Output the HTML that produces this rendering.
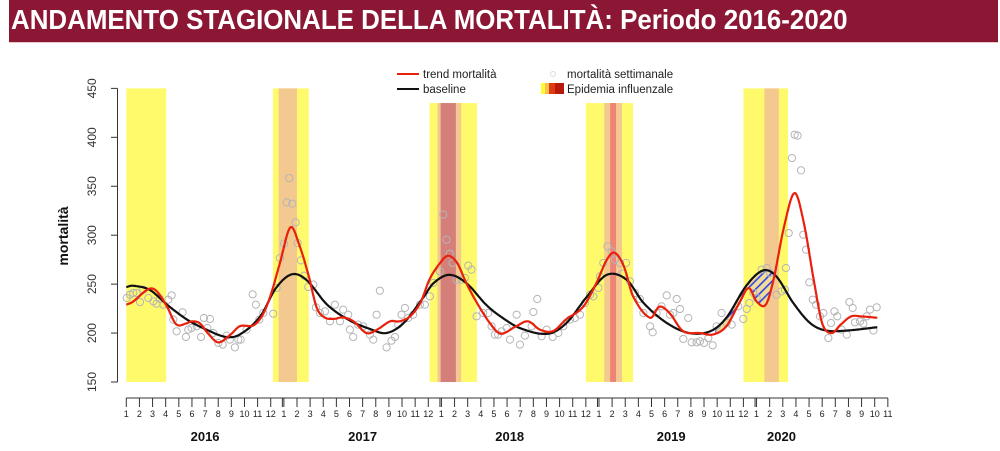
<!DOCTYPE html>
<html><head><meta charset="utf-8"><style>
html,body{margin:0;padding:0;background:#fff;width:1000px;height:451px;overflow:hidden}
#hdr{position:absolute;left:9px;top:0;width:989px;height:42px;background:#8B1734;border-bottom:1px solid #e8c8cf}
#hdr span{position:absolute;left:2px;top:4px;color:#fff;font:bold 28px "Liberation Sans",sans-serif;transform:scaleX(0.925);transform-origin:left top;white-space:nowrap}
svg{position:absolute;left:0;top:0}
text{font-family:"Liberation Sans",sans-serif}
</style></head><body>
<div id="hdr"><span>ANDAMENTO STAGIONALE DELLA MORTALITÀ: Periodo 2016-2020</span></div>
<svg id="chart" width="1000" height="451">
<defs><pattern id="hatch" patternUnits="userSpaceOnUse" width="6" height="6" patternTransform="rotate(45)"><rect x="0" y="0" width="6" height="6" fill="#f2dc9a"/><rect x="0" y="0" width="1.6" height="6" fill="#3347e8"/></pattern></defs>
</svg>
<script>
// months since Jan 2016
const bandStart=[0,11.17,23.1,35.0,47.0];
const bandEnd=[3.04,13.9,26.7,38.6,50.4];
const bandTop=[450,450,435,435,450];
const orangeStart=[null,11.6,23.7,36.4,48.6];
const orangeEnd=[null,13.0,25.5,37.75,49.7];
const redStart=[null,null,23.94,36.85,null];
const redEnd=[null,null,25.1,37.3,null];
const redColor=[null,null,"#d47f7a","#ee8476",null];

const trendT=[0,0.5,1.7,2.3,3.1,3.8,4.6,5,5.6,6.2,7,7.9,8.65,9.7,10.4,11,11.7,12.5,13.2,13.9,14.5,15.1,15.8,16.5,17.3,18.3,19.1,20.1,20.8,21.6,22.4,23.1,23.9,24.5,25.2,25.9,26.7,27.7,28.5,29.7,30.6,31.5,32.5,33.5,34.8,35.8,36.6,37.2,37.9,38.6,39.9,40.6,41.4,42.4,43.7,44.7,45.7,46.7,47.4,48.0,48.7,49.3,50.1,50.9,51.6,52.4,53.0,53.7,54.4,55.2,56.0,57.2];
const trendV=[229,232,245,243,227,209,210,212,210,200,190.5,198,207,208,219,239,271.6,308,289,258,226,216,214.5,216,212,200,203.5,212,212,217,231,255,271.6,279,271.6,251,231,210,199.5,207,212,203.5,202,214,227,251,275,282,268,237.5,215.6,227,220,202,200,198.6,207,231,246,232.4,229,255,309,343,312.6,251,210,200,208.5,217,217,215.6];
const baseT=[0,0.5,1.8,3.1,4.6,6.1,7.6,8.65,10.2,11.4,12.6,13.7,15.3,17,18.6,19.8,21.1,22.6,23.4,24.6,25.9,27.4,28.5,30,32.1,33.5,35.1,36.6,38.1,39.4,41.2,42.9,44.5,45.7,47.2,48.5,49.5,50.8,52.1,53.3,54.9,57.2];
const baseV=[247,248.4,244,229,214,203.5,196,198.6,217,246,260,254.5,229,213,204,200,210,236,251,259.5,251,229,217,205,199.3,210,237.5,259.5,254.5,230.7,210,200,202,215.6,248,264,258,230.7,210,202.6,202.6,206];
const pointT=[0.03,0.28,0.53,0.79,1.04,1.29,1.68,2.06,2.31,2.56,2.82,3.2,3.45,3.58,3.83,4.29,4.54,4.72,4.97,5.36,5.69,5.91,6.17,6.37,6.62,7.01,7.34,7.64,7.89,8.27,8.53,8.71,9.16,9.62,9.87,10.13,10.43,11.19,11.45,11.7,12.01,12.21,12.41,12.64,12.89,13.05,13.3,13.55,13.86,14.24,14.44,14.75,15.13,15.51,15.89,16.27,16.52,16.9,17.03,17.28,17.66,18.05,18.55,18.81,19.06,19.31,19.82,20.2,20.46,20.71,20.96,21.22,21.47,21.85,22.36,22.74,23.12,23.38,23.88,24.14,24.39,24.64,24.85,25.15,25.53,25.79,26.04,26.29,26.68,27.18,27.56,27.82,28.07,28.32,
28.59,28.97,29.22,29.73,29.98,30.36,30.87,31.0,31.3,31.63,32.01,32.47,32.9,33.28,33.79,34.17,34.55,34.93,35.32,35.57,35.95,36.08,36.33,36.64,36.97,37.22,37.6,37.8,38.06,38.36,38.74,39.12,39.38,39.89,40.09,40.39,40.77,41.16,41.41,41.66,41.92,42.17,42.42,42.8,43.06,43.44,43.69,44.0,44.33,44.66,44.96,45.34,45.73,46.11,46.61,46.99,47.25,47.45,47.76,48.01,48.39,48.77,49.03,49.53,49.91,50.17,50.24,50.45,50.7,50.9,51.13,51.39,51.56,51.77,52.02,52.28,52.53,52.83,53.09,53.47,53.67,53.93,54.15,54.48,54.87,55.07,55.32,55.5,55.88,56.14,56.39,56.64,56.9,57.15];
const pointV=[235.8,239.2,241,241,231.7,244.3,235.8,232.4,230,234.8,229,234.1,238.5,213.7,201.8,221.2,196,203.5,205.2,206.9,196,215.4,205.2,214.4,200.1,189.9,188.2,197.4,193.3,185.4,193.3,193.3,203.5,239.6,229,213.7,220.5,219.8,246.1,276.7,291.3,333.5,358.4,332.2,313.1,292,274.3,258.6,247.1,249.5,226.3,220.5,222.2,212,229,212,223.9,218.8,203.5,196,208.6,206.9,198.4,193.3,218.8,243.3,185.4,192.2,196,208.6,218.8,225.6,215.4,218.8,229,229,237.5,251.2,263.1,321,295.4,281.1,271.6,254.5,254.5,256.3,268.9,264.8,217.1,220.5,220.5,206.9,198.4,198.4,
201.8,205.2,193.3,218.8,188.2,197.4,206.9,221.5,234.8,196.7,203.5,196,200.1,206.9,213.7,215.4,218.8,230.7,239.2,237.5,246.1,258,271.6,288.6,283.5,275,271.6,260.7,271.6,252.9,241,234.8,220.5,206.9,200.8,220.5,227.3,238.5,218.8,220.5,234.8,224.6,194,215.4,190.5,190.5,191.6,189.9,194.9,187.5,206.9,220.5,210.3,208.6,227.3,214.4,224.6,230.7,241,235.8,264.8,266.5,261.4,239.2,242.6,244.3,266.5,302.2,378.8,402.7,401.7,366.2,300.5,285.2,251.8,234.1,229,217.1,220.5,194.9,210.3,222.2,217.1,203.5,198.4,231.7,225.6,211,211.9,209.6,217.1,224,202.6,226.3];
const yTicks=[150,200,250,300,350,400,450];
const monthsPerYear=[12,12,12,12,11];
const yearLabels=["2016","2017","2018","2019","2020"];
const yearLabelT=[6,18,29.2,41.5,49.9];
const hatchRange=[44.9,49.6];

const NS="http://www.w3.org/2000/svg";
const svg=document.getElementById('chart');
const X=t=>126.3+t*13.13;
const Y=v=>382-(v-150)*0.9787;
function mk(tag,attrs,parent){const e=document.createElementNS(NS,tag);for(const k in attrs)e.setAttribute(k,attrs[k]);(parent||svg).appendChild(e);return e;}

for(let i=0;i<bandStart.length;i++){
  let r=mk('rect',{x:X(bandStart[i]),y:Y(bandTop[i]),width:X(bandEnd[i])-X(bandStart[i]),height:Y(150)-Y(bandTop[i]),fill:'#fffa6b'});
  
  
  if(orangeStart[i]!==null){
    let o=mk('rect',{x:X(orangeStart[i]),y:Y(bandTop[i]),width:X(orangeEnd[i])-X(orangeStart[i]),height:Y(150)-Y(bandTop[i]),fill:'#f4c990'});
    
    
  }
  if(redStart[i]!==null){
    let d=mk('rect',{x:X(redStart[i]),y:Y(bandTop[i]),width:X(redEnd[i])-X(redStart[i]),height:Y(150)-Y(bandTop[i]),fill:redColor[i]});
    
    
  }
}

function interp(T,V,t){
  let i=0;while(i<T.length-2&&T[i+1]<t)i++;
  const t0=T[Math.max(i-1,0)],t1=T[i],t2=T[i+1],t3=T[Math.min(i+2,T.length-1)];
  const v0=V[Math.max(i-1,0)],v1=V[i],v2=V[i+1],v3=V[Math.min(i+2,V.length-1)];
  const h=t2-t1,u=Math.min(Math.max((t-t1)/h,0),1);
  const m1=(v2-v0)/(t2-t0)*h,m2=(v3-v1)/(t3-t1)*h;
  const u2=u*u,u3=u2*u;
  return (2*u3-3*u2+1)*v1+(u3-2*u2+u)*m1+(-2*u3+3*u2)*v2+(u3-u2)*m2;
}
function curvePath(T,V){let d='';for(let t=T[0];t<=T[T.length-1]+1e-9;t+=0.05){d+=(d?'L':'M')+X(t).toFixed(1)+','+Y(interp(T,V,t)).toFixed(1);}return d;}

{
  let top='',bot=[];
  for(let t=hatchRange[0];t<=hatchRange[1];t+=0.05){
    const b=interp(baseT,baseV,t),r=interp(trendT,trendV,t);
    const lo=Math.min(b,r);
    top+=(top?'L':'M')+X(t).toFixed(1)+','+Y(b).toFixed(1);
    bot.unshift(X(t).toFixed(1)+','+Y(lo).toFixed(1));
  }
  let h=mk('path',{d:top+'L'+bot.join('L')+'Z',fill:'url(#hatch)',stroke:'#3347e8','stroke-width':1});
  
  
}

const pg=mk('g',{});


for(let i=0;i<pointT.length;i++){
  let c=mk('circle',{cx:X(pointT[i]),cy:Y(pointV[i]),r:3.6,fill:'none',stroke:'#b5b5b5','stroke-width':1},pg);
  
  
}

let bl=mk('path',{d:curvePath(baseT,baseV),fill:'none',stroke:'#111','stroke-width':2.2});


let tl=mk('path',{d:curvePath(trendT,trendV),fill:'none',stroke:'#e8200c','stroke-width':2.2});



const ya=mk('g',{});


mk('line',{x1:117.5,y1:Y(450),x2:117.5,y2:Y(150),stroke:'#333'},ya);
yTicks.forEach(v=>{
  mk('line',{x1:111,y1:Y(v),x2:117.5,y2:Y(v),stroke:'#333'},ya);
  let tx=mk('text',{x:96,y:Y(v),'font-size':12,fill:'#333','text-anchor':'middle',transform:`rotate(-90 96 ${Y(v)})`},ya);
  tx.textContent=v;
  
  
});
let yt=mk('text',{x:68,y:236,'font-size':14,'font-weight':'bold',fill:'#111','text-anchor':'middle',transform:'rotate(-90 68 236)'});
yt.textContent='mortalità';



const xa=mk('g',{});


let total=0;monthsPerYear.forEach(m=>total+=m);
mk('line',{x1:X(0),y1:398,x2:X(total-1),y2:398,stroke:'#333'},xa);
let t=0;
monthsPerYear.forEach((m,yi)=>{
  for(let k=1;k<=m;k++){
    mk('line',{x1:X(t),y1:398,x2:X(t),y2:407,stroke:'#333'},xa);
    if(k===1&&yi>0)mk('line',{x1:X(t)-1.5,y1:398,x2:X(t)-1.5,y2:407,stroke:'#333'},xa);
    let tx=mk('text',{x:X(t),y:417,'font-size':9,fill:'#222','text-anchor':'middle'},xa);
    tx.textContent=k;
    
    
    t++;
  }
});
yearLabels.forEach((y,i)=>{
  let tx=mk('text',{x:X(yearLabelT[i]),y:441,'font-size':13,'font-weight':'bold',fill:'#111','text-anchor':'middle'},xa);
  tx.textContent=y;
  
  
});

const lg=mk('g',{});


mk('line',{x1:397,y1:74,x2:419,y2:74,stroke:'#e8200c','stroke-width':2},lg);
mk('line',{x1:397,y1:89,x2:419,y2:89,stroke:'#111','stroke-width':2},lg);
mk('circle',{cx:553,cy:74,r:2.5,fill:'none',stroke:'#ddd'},lg);
[['#fffa30',541,4],['#f7c050',545,4],['#e03a10',549,6],['#b71a0a',555,9]].forEach(s=>mk('rect',{x:s[1],y:83,width:s[2],height:11,fill:s[0]},lg));
[['trend mortalità',423,78,'legend-trend'],['baseline',423,93,'legend-baseline'],['mortalità settimanale',567,78,'legend-points'],['Epidemia influenzale',567,93,'legend-epidemic']].forEach(a=>{
  let tx=mk('text',{x:a[1],y:a[2],'font-size':11.5,fill:'#222'},lg);
  tx.textContent=a[0];
  
  
});
</script>
</body></html>
